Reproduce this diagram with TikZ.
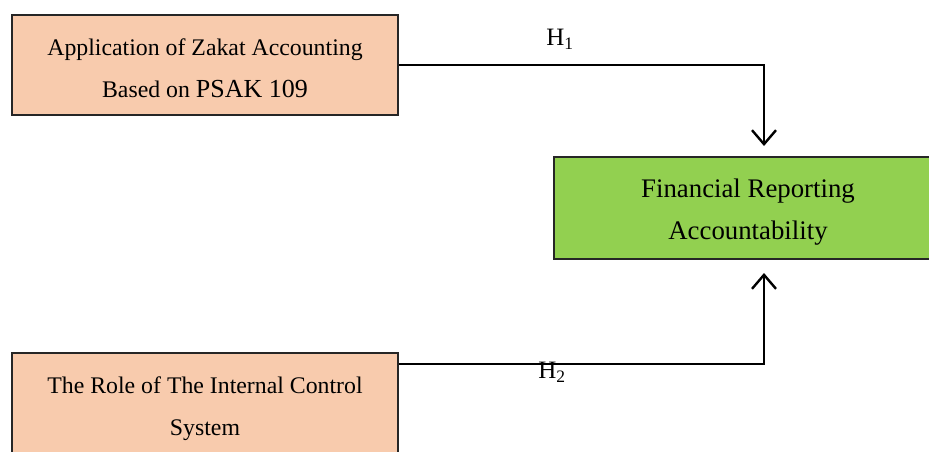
\documentclass[tikz,border=0pt]{standalone}
\usepackage{fontspec}
\setmainfont{Liberation Serif}
\usetikzlibrary{arrows.meta,positioning}
\definecolor{peach}{HTML}{F8CBAD}
\definecolor{limegreen}{HTML}{92D050}
\newcommand{\lift}[1]{\rule{0pt}{#1}}
\tikzset{factor/.style={draw=black!85, line width=1.6pt, fill=peach, minimum width=386pt, minimum height=100pt, align=center, inner sep=0pt, font=\fontsize{23.8}{42}\selectfont},
         outcome/.style={factor, fill=limegreen, minimum width=388pt, minimum height=102pt, font=\fontsize{26.8}{42}\selectfont},
         link/.style={black, line width=2.4pt, -{Straight Barb[length=14pt,width=24pt,line width=2.4pt]}},
         hyp/.style={inner sep=0pt, font=\fontsize{25}{30}\selectfont}}

\begin{document}
\begin{tikzpicture}[x=1pt,y=-1pt]
  \useasboundingbox (0,0) rectangle (929,451);
  \clip (0,0) rectangle (929,451);

  % the two factors and the outcome
  \node[factor]  (zakat)   at (205,65)  {\lift{24pt}Application of Zakat Accounting\\Based on {\fontsize{26}{42}\selectfont PSAK 109}};
  \node[outcome] (account) at (748,208) {\lift{27pt}Financial Reporting\\Accountability};
  \node[factor]  (control) at (205,403) {\lift{29pt}The Role of The Internal Control\\System};

  % arrow ends above and below the outcome box
  \coordinate (h1end) at (764,146);
  \coordinate (h2end) at (764,273);

  \draw[link] (zakat.east) -| (h1end);
  \draw[link] ([yshift=-12pt]control.north east) -| (h2end);

  \node[hyp] (h1) at (560,39)  {H\textsubscript{1}};
  \node[hyp] (h2) at (552,372) {H\textsubscript{2}};
\end{tikzpicture}
\end{document}
